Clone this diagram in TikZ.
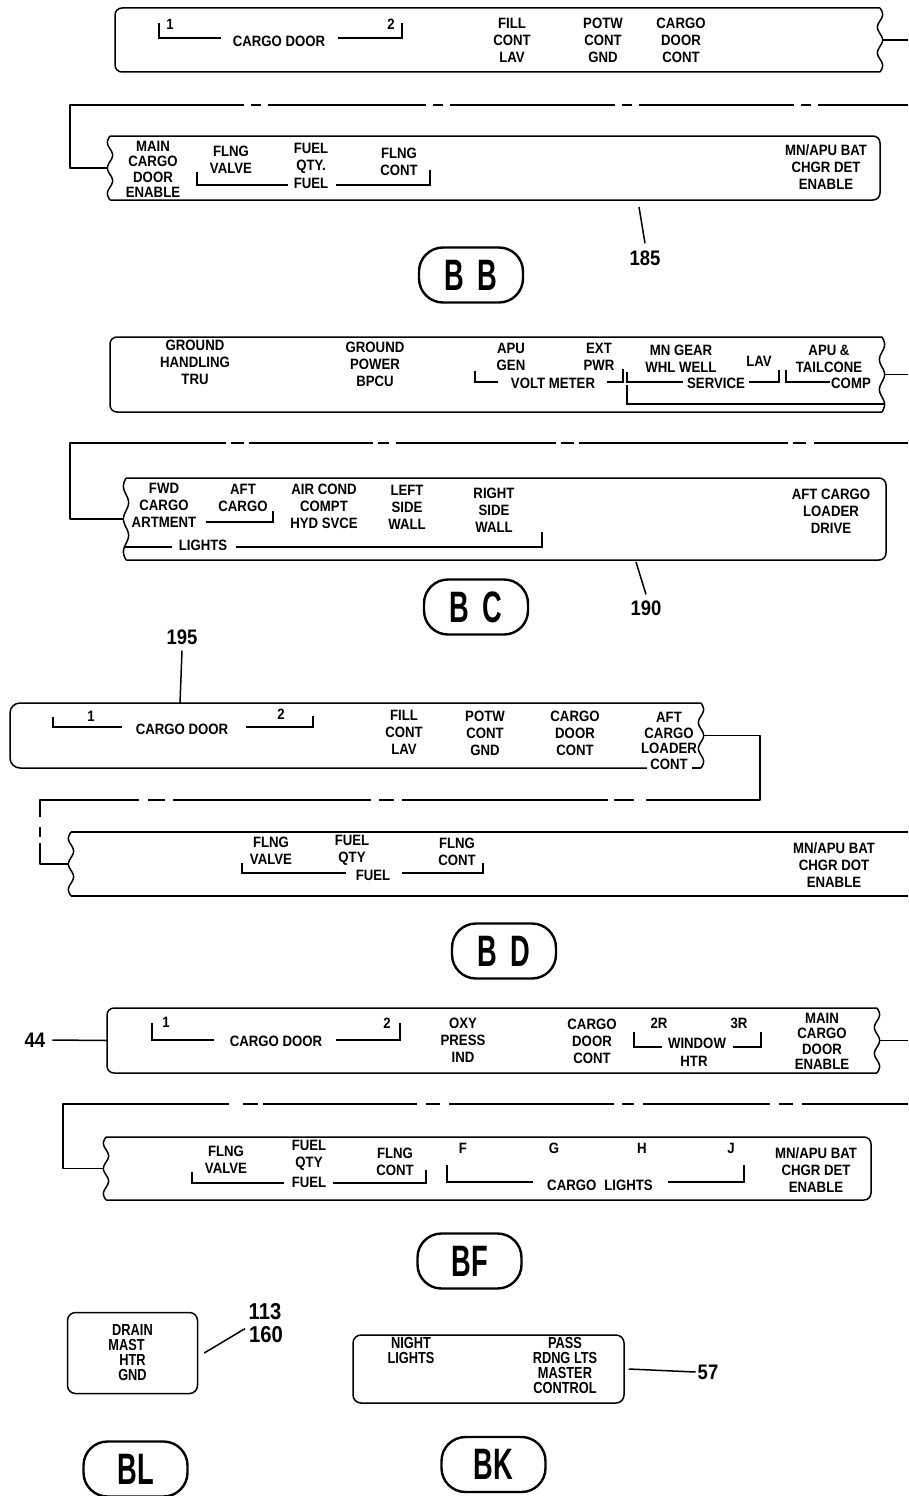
\documentclass[tikz,border=0pt]{standalone}
\usepackage{fontspec}
\newfontfamily\lblfam{Liberation Sans}[FakeStretch=0.88]
\newfontfamily\smfam{Liberation Sans}[FakeStretch=0.8]
\newfontfamily\capfam{Liberation Sans}[FakeStretch=0.62]
\newcommand\lblf{\lblfam\bfseries\fontsize{15}{17}\selectfont}
\newcommand\lblq{\lblfam\bfseries\fontsize{15}{15.5}\selectfont}
\newcommand\capf{\capfam\bfseries\fontsize{44}{46}\selectfont}
\newcommand\numf{\lblfam\bfseries\fontsize{21}{22}\selectfont}
\newcommand\numg{\lblfam\bfseries\fontsize{23}{24}\selectfont}
\newcommand\smf{\smfam\bfseries\fontsize{16}{15}\selectfont}
\newcommand\wavy[4]{%
  \draw[edge] plot[smooth, domain=#2:#3, samples=41, variable=\t] ({#1+#4*sin((\t-#2)/(#3-#2)*900)}, \t);}
\tikzset{
  edge/.style={line width=1.5pt, line join=round},
  brk/.style={line width=1.4pt},
  lbl/.style={font=\lblf, align=center, inner sep=0pt},
  lbq/.style={font=\lblq, align=center, inner sep=0pt},
  num/.style={font=\numf, inner sep=0pt},
  smlbox/.style={draw, line width=1.5pt, rounded corners=8pt, font=\smf, align=center, inner sep=0pt},
  sml/.style={font=\smf, align=center, inner sep=0pt},
  capsule/.style={draw, line width=2.4pt, rounded corners=24pt, minimum width=104pt, minimum height=55pt, font=\capf, inner sep=0pt}
}
\begin{document}
\begin{tikzpicture}[x=1pt,y=-1pt]
\fill[white] (0,0) rectangle (908,1496);
\useasboundingbox (0,0) rectangle (908,1496);

% ================= BB =================
\draw[edge, rounded corners=7pt] (880,8) -- (115,8) -- (115,72) -- (880,72);
\wavy{880}{8}{72}{2.6}
\coordinate (bb1r) at (882.6,40);
\coordinate (bb1x) at (908,40);
\draw[edge] (bb1r) -- (bb1x);
\node[lbl] (bb1cd) at (279,41) {CARGO DOOR};
\node[lbl] (bb1n1) at (170,24) {1};
\node[lbl] (bb1n2) at (391,24) {2};
\draw[brk] (159,23) -- (159,38) -- (221,38);
\draw[brk] (338,38) -- (402,38) -- (402,23);
\node[lbl] (bb1fill) at (512,40) {FILL\\CONT\\LAV};
\node[lbl] (bb1potw) at (603,40) {POTW\\CONT\\GND};
\node[lbl] (bb1cdc) at (681,40) {CARGO\\DOOR\\CONT};

\coordinate (bb2l) at (107.4,168);
\coordinate (bbcA) at (70,168);
\coordinate (bbcB) at (70,105);
\coordinate (bbcx) at (908,105);
\draw[edge, dash pattern=on 274pt off 7pt on 10pt off 7pt on 158pt off 7pt on 10pt off 7pt on 165pt off 7pt on 10pt off 7pt on 155pt off 7pt on 10pt off 7pt on 300pt off 1pt]
  (bb2l) -- (bbcA) -- (bbcB) -- (bbcx);

\draw[edge, rounded corners=7pt] (110,136) -- (880,136) -- (880,200) -- (110,200);
\wavy{110}{136}{200}{-2.6}
\node[lbq] (bb2main) at (153,169.5) {MAIN\\CARGO\\DOOR\\ENABLE};
\node[lbl] (bb2fv) at (231,159.5) {FLNG\\VALVE};
\node[lbl] (bb2fq) at (311,158) {FUEL\\QTY.};
\node[lbl] (bb2fuel) at (311,183) {FUEL};
\node[lbl] (bb2fc) at (399,161.5) {FLNG\\CONT};
\draw[brk] (197,172) -- (197,185) -- (288,185);
\draw[brk] (336,185) -- (430,185) -- (430,170);
\node[lbl] (bb2mn) at (826,167) {MN/APU BAT\\CHGR DET\\ENABLE};
\node[num] (n185) at (645,258) {185};
\coordinate (l185) at (639,207);
\draw[edge] (l185) -- ([yshift=7pt]n185.north);
\node[capsule] (capBB) at (471,275) {B\hspace{14pt}B};

% ================= BC =================
\draw[edge, rounded corners=7pt] (882,337) -- (110,337) -- (110,412) -- (882,412);
\wavy{882}{337}{412}{2.6}
\coordinate (bc1r) at (884.6,374.5);
\coordinate (bc1x) at (908,374.5);
\draw[edge] (bc1r) -- (bc1x);
\node[lbl] (bc1gh) at (195,362.5) {GROUND\\HANDLING\\TRU};
\node[lbl] (bc1gp) at (375,364.5) {GROUND\\POWER\\BPCU};
\node[lbl] (bc1apu) at (511,357) {APU\\GEN};
\node[lbl] (bc1ext) at (599,357) {EXT\\PWR};
\node[lbl] (bc1vm) at (553,383) {VOLT METER};
\draw[brk] (475,371) -- (475,382) -- (498,382);
\draw[brk] (607,382) -- (623,382) -- (623,369);
\node[lbl] (bc1mg) at (681,359) {MN GEAR\\WHL WELL};
\node[lbl] (bc1lav) at (759,361) {LAV};
\node[lbl] (bc1svc) at (716,383) {SERVICE};
\draw[brk] (627,372) -- (627,382) -- (683,382);
\draw[brk] (749,382) -- (779,382) -- (779,370);
\node[lbl] (bc1apt) at (829,359) {APU \&\\TAILCONE};
\node[lbl] (bc1comp) at (851,383) {COMP};
\draw[brk] (786,370) -- (786,382) -- (830,382);
\draw[brk] (627,385) -- (627,404) -- (884,404);

\coordinate (bc2l) at (123.4,519);
\coordinate (bccA) at (70,519);
\coordinate (bccB) at (70,443);
\coordinate (bccx) at (908,443);
\draw[edge, dash pattern=on 285pt off 5pt on 13pt off 5pt on 124pt off 5pt on 11pt off 7pt on 160pt off 5pt on 13pt off 5pt on 209pt off 5pt on 13pt off 8pt on 300pt off 1pt]
  (bc2l) -- (bccA) -- (bccB) -- (bccx);

\draw[edge, rounded corners=7pt] (126,478) -- (886,478) -- (886,560) -- (126,560);
\wavy{126}{478}{560}{-2.6}
\node[lbl] (bc2fwd) at (164,505) {FWD\\CARGO\\ARTMENT};
\node[lbl] (bc2aft) at (243,497.5) {AFT\\CARGO};
\draw[brk] (206,522) -- (273,522) -- (273,511);
\node[lbl] (bc2air) at (324,506) {AIR COND\\COMPT\\HYD SVCE};
\node[lbl] (bc2left) at (407,507) {LEFT\\SIDE\\WALL};
\node[lbl] (bc2right) at (494,510) {RIGHT\\SIDE\\WALL};
\node[lbl] (bc2lts) at (203,545) {LIGHTS};
\draw[brk] (125,547) -- (172,547);
\draw[brk] (236,547) -- (542,547) -- (542,532);
\node[lbl] (bc2acl) at (831,511.5) {AFT CARGO\\LOADER\\DRIVE};
\node[num] (n190) at (646,608) {190};
\coordinate (l190) at (636,562);
\draw[edge] (l190) -- ([yshift=6pt]n190.north);
\node[capsule] (capBC) at (476,607) {B\hspace{14pt}C};

% ================= BD =================
\node[num] (n195) at (182,637) {195};
\coordinate (l195) at (180,703);
\draw[edge] ([yshift=-6pt]n195.south) -- (l195);
\draw[edge, rounded corners=10pt] (701,703) -- (10,703) -- (10,768) -- (647,768);
\draw[edge] (692,768) -- (701,768);
\wavy{701}{703}{768}{2.6}
\node[lbl] (bd1cd) at (182,729) {CARGO DOOR};
\node[lbl] (bd1n1) at (91,716) {1};
\node[lbl] (bd1n2) at (281,714) {2};
\draw[brk] (53,717) -- (53,727) -- (122,727);
\draw[brk] (246,727) -- (313,727) -- (313,716);
\node[lbl] (bd1fill) at (404,732.5) {FILL\\CONT\\LAV};
\node[lbl] (bd1potw) at (485,733.5) {POTW\\CONT\\GND};
\node[lbl] (bd1cdc) at (575,733.5) {CARGO\\DOOR\\CONT};
\node[lbq] (bd1acl) at (669,741) {AFT\\CARGO\\LOADER\\CONT};

\coordinate (bd1r) at (703.6,735.5);
\coordinate (bdcA) at (760,735.5);
\coordinate (bdcB) at (760,800);
\coordinate (bdcC) at (40,800);
\coordinate (bdcD) at (40,864);
\coordinate (bd2l) at (68.4,864);
\draw[edge, dash pattern=on 235pt off 12pt on 20pt off 6pt on 206pt off 8pt on 15pt off 8pt on 198pt off 8pt on 17pt off 9pt on 116pt off 10pt on 10pt off 6pt on 200pt off 1pt]
  (bd1r) -- (bdcA) -- (bdcB) -- (bdcC) -- (bdcD) -- (bd2l);

\draw[edge] (908,832) -- (71,832);
\draw[edge] (71,896) -- (908,896);
\wavy{71}{832}{896}{-2.6}
\node[lbl] (bd2fv) at (271,850.5) {FLNG\\VALVE};
\node[lbl] (bd2fq) at (352,850.5) {FUEL\\QTY};
\node[lbl] (bd2fuel) at (373,875) {FUEL};
\node[lbl] (bd2fc) at (457,851.5) {FLNG\\CONT};
\draw[brk] (242,863) -- (242,873) -- (346,873);
\draw[brk] (402,873) -- (483,873) -- (483,863);
\node[lbl] (bd2mn) at (834,865) {MN/APU BAT\\CHGR DOT\\ENABLE};
\node[capsule] (capBD) at (504,951) {B\hspace{14pt}D};

% ================= BF =================
\node[num] (n44) at (35,1040) {44};
\coordinate (bf1l) at (107,1040.5);
\draw[edge] ([xshift=7pt]n44.east) -- (bf1l);
\draw[edge, rounded corners=7pt] (877,1008) -- (107,1008) -- (107,1073) -- (877,1073);
\wavy{877}{1008}{1073}{2.6}
\coordinate (bf1r) at (879.6,1040.5);
\coordinate (bf1x) at (908,1040.5);
\draw[edge] (bf1r) -- (bf1x);
\node[lbl] (bf1cd) at (276,1041) {CARGO DOOR};
\node[lbl] (bf1n1) at (166,1022) {1};
\node[lbl] (bf1n2) at (387,1023) {2};
\draw[brk] (152,1023) -- (152,1040) -- (214,1040);
\draw[brk] (336,1040) -- (400,1040) -- (400,1023);
\node[lbl] (bf1oxy) at (463,1040) {OXY\\PRESS\\IND};
\node[lbl] (bf1cdc) at (592,1041) {CARGO\\DOOR\\CONT};
\node[lbl] (bf1r2) at (659,1023) {2R};
\node[lbl] (bf1r3) at (739,1023) {3R};
\node[lbl] (bf1win) at (697,1043) {WINDOW};
\node[lbl] (bf1htr) at (694,1061) {HTR};
\draw[brk] (634,1032) -- (634,1047) -- (662,1047);
\draw[brk] (733,1047) -- (761,1047) -- (761,1032);
\node[lbq] (bf1main) at (822,1041.5) {MAIN\\CARGO\\DOOR\\ENABLE};

\coordinate (bf2l) at (103.4,1168.5);
\coordinate (bfcA) at (63,1168.5);
\coordinate (bfcB) at (63,1104);
\coordinate (bfcx) at (908,1104);
\draw[edge, dash pattern=on 271pt off 14pt on 15pt off 5pt on 154pt off 9pt on 14pt off 9pt on 165pt off 8pt on 12pt off 9pt on 127pt off 9pt on 14pt off 9pt on 300pt off 1pt]
  (bf2l) -- (bfcA) -- (bfcB) -- (bfcx);

\draw[edge, rounded corners=7pt] (106,1137) -- (871,1137) -- (871,1200) -- (106,1200);
\wavy{106}{1137}{1200}{-2.6}
\node[lbl] (bf2fv) at (226,1159.5) {FLNG\\VALVE};
\node[lbl] (bf2fq) at (309,1155.5) {FUEL\\QTY};
\node[lbl] (bf2fuel) at (309,1182) {FUEL};
\node[lbl] (bf2fc) at (395,1161.5) {FLNG\\CONT};
\draw[brk] (192,1172) -- (192,1183) -- (284,1183);
\draw[brk] (333,1183) -- (426,1183) -- (426,1170);
\node[lbl] (bf2f) at (463,1148) {F};
\node[lbl] (bf2g) at (554,1148) {G};
\node[lbl] (bf2h) at (642,1148) {H};
\node[lbl] (bf2j) at (731,1148) {J};
\node[lbl] (bf2cl) at (600,1185) {CARGO\hspace{8pt}LIGHTS};
\draw[brk] (447,1165) -- (447,1182) -- (533,1182);
\draw[brk] (668,1182) -- (744,1182) -- (744,1165);
\node[lbl] (bf2mn) at (816,1170) {MN/APU BAT\\CHGR DET\\ENABLE};
\node[capsule] (capBF) at (469.5,1261) {BF};

% ================= BL / BK =================
\node[smlbox, minimum width=130pt, minimum height=81pt] (blbox) at (132.5,1353) {DRAIN\\MAST\kern12pt\\HTR\\GND};
\node[num, font=\numg] (n113) at (265,1311.5) {113};
\node[num, font=\numg] (n160) at (266,1335) {160};
\draw[edge] ([xshift=6pt]blbox.east) -- ([xshift=-4pt,yshift=-2pt]n160.north west);
\node[smlbox, minimum width=271pt, minimum height=68pt] (bkbox) at (488.5,1369) {};
\node[sml] (bknl) at (411,1350.5) {NIGHT\\LIGHTS};
\node[sml] (bkpass) at (565,1365.5) {PASS\\RDNG LTS\\MASTER\\CONTROL};
\node[num] (n57) at (708,1372) {57};
\draw[edge] ([xshift=4pt]bkbox.east) -- ([xshift=-2pt]n57.west);
\node[capsule] (capBL) at (135.5,1469) {BL};
\node[capsule] (capBK) at (493.5,1464.5) {BK};
\end{tikzpicture}
\end{document}
